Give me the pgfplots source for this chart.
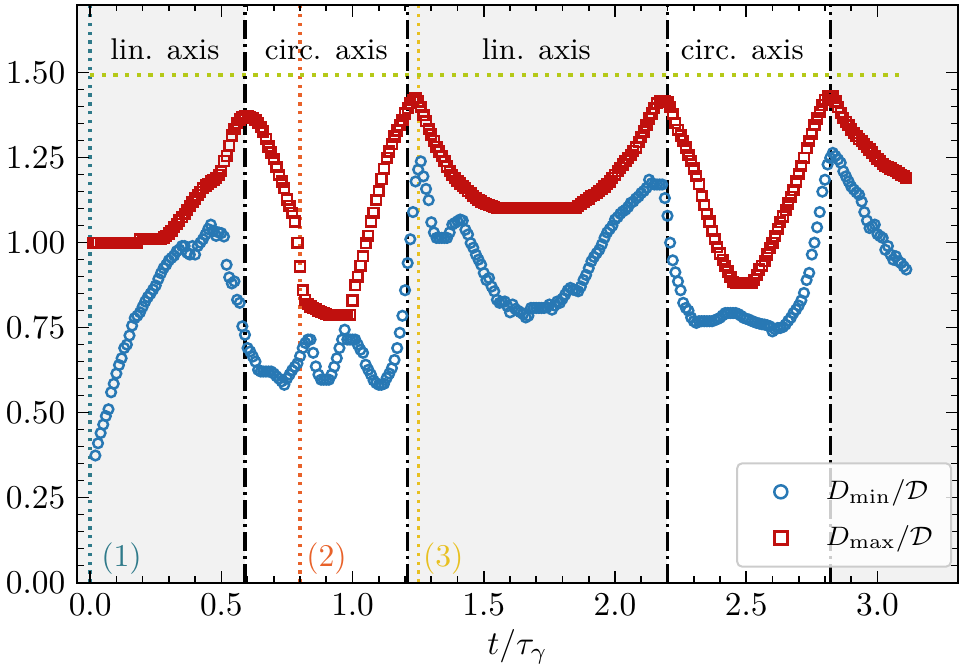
\documentclass[border=0pt]{standalone}
\usepackage{pgfplots}
\pgfplotsset{compat=1.18}
\usepackage{pgfplotstable}
\definecolor{cblue}{HTML}{2878B4}
\definecolor{cred}{HTML}{C0100E}
\definecolor{shade}{HTML}{F2F2F2}
\definecolor{cteal}{HTML}{2F7A8A}
\definecolor{corange}{HTML}{E8622A}
\definecolor{cgold}{HTML}{E8C020}
\definecolor{cgreen}{HTML}{B5C918}
\pgfplotstableread{
x dmax dmin
0.01 1.00 nan
0.02 1.00 0.374
0.03 1.00 0.410
0.04 1.00 0.440
0.05 1.00 0.465
0.06 1.00 0.490
0.07 1.00 0.510
0.08 1.00 0.560
0.09 1.00 0.585
0.10 1.00 0.615
0.11 1.00 0.640
0.12 1.00 0.660
0.13 1.00 0.690
0.14 1.00 0.700
0.15 1.00 0.727
0.16 1.00 0.756
0.17 1.00 0.778
0.18 1.00 0.785
0.19 1.01 0.795
0.20 1.01 0.811
0.21 1.01 0.827
0.22 1.01 0.840
0.23 1.01 0.850
0.24 1.01 0.862
0.25 1.01 0.874
0.26 1.01 0.893
0.27 1.01 0.910
0.28 1.015 0.925
0.29 1.02 0.935
0.30 1.027 0.948
0.31 1.035 0.955
0.32 1.045 0.962
0.33 1.055 0.975
0.34 1.065 0.980
0.35 1.075 0.990
0.36 1.085 0.990
0.37 1.097 0.970
0.38 1.108 0.965
0.39 1.120 0.990
0.40 1.130 0.965
0.41 1.140 0.990
0.42 1.150 1.000
0.43 1.160 1.010
0.44 1.168 1.024
0.45 1.173 1.040
0.46 1.180 1.053
0.47 1.185 1.035
0.48 1.190 1.020
0.49 1.200 1.030
0.50 1.210 1.028
0.51 1.240 1.018
0.52 1.255 0.935
0.53 1.285 0.898
0.54 1.315 0.880
0.55 1.335 0.886
0.56 1.352 0.832
0.57 1.362 0.823
0.58 1.368 0.754
0.59 1.371 0.729
0.60 1.372 0.690
0.61 1.370 0.680
0.62 1.366 0.665
0.63 1.360 0.650
0.64 1.352 0.626
0.65 1.340 0.621
0.66 1.327 0.621
0.67 1.305 0.621
0.68 1.283 0.621
0.69 1.265 0.621
0.70 1.245 0.615
0.71 1.222 0.607
0.72 1.200 0.600
0.73 1.180 0.592
0.74 1.160 0.582
0.75 1.127 0.600
0.76 1.108 0.612
0.77 1.088 0.625
0.78 1.062 0.635
0.79 1.000 0.645
0.80 0.930 0.666
0.81 0.860 0.690
0.82 0.832 0.705
0.83 0.820 0.715
0.84 0.812 0.715
0.85 0.808 0.676
0.86 0.804 0.636
0.87 0.800 0.612
0.88 0.797 0.597
0.89 0.793 0.597
0.90 0.790 0.597
0.91 0.788 0.597
0.92 0.788 0.612
0.93 0.788 0.635
0.94 0.788 0.660
0.95 0.788 0.690
0.96 0.788 0.715
0.97 0.788 0.744
0.98 0.788 0.715
0.99 0.788 0.715
1.00 0.830 0.715
1.01 0.875 0.715
1.02 0.900 0.700
1.03 0.932 0.685
1.04 0.960 0.676
1.05 0.998 0.641
1.06 1.020 0.626
1.07 1.062 0.612
1.08 1.087 0.595
1.09 1.126 0.587
1.10 1.151 0.582
1.11 1.187 0.582
1.12 1.217 0.585
1.13 1.250 0.602
1.14 1.268 0.615
1.15 1.290 0.631
1.16 1.312 0.655
1.17 1.330 0.690
1.18 1.345 0.735
1.19 1.360 0.785
1.20 1.380 0.860
1.21 1.395 0.940
1.22 1.410 1.010
1.23 1.420 1.090
1.24 1.426 1.180
1.25 1.415 1.215
1.26 1.400 1.239
1.27 1.375 1.195
1.28 1.357 1.158
1.29 1.335 1.125
1.30 1.318 1.060
1.31 1.300 1.030
1.32 1.282 1.014
1.33 1.268 1.014
1.34 1.255 1.014
1.35 1.240 1.014
1.36 1.224 1.014
1.37 1.210 1.030
1.38 1.198 1.053
1.39 1.190 1.058
1.40 1.182 1.063
1.41 1.174 1.068
1.42 1.167 1.065
1.43 1.160 1.038
1.44 1.152 1.024
1.45 1.145 0.999
1.46 1.137 0.985
1.47 1.132 0.965
1.48 1.126 0.950
1.49 1.121 0.935
1.50 1.117 0.911
1.51 1.113 0.890
1.52 1.110 0.896
1.53 1.107 0.871
1.54 1.104 0.857
1.55 1.102 0.832
1.56 1.102 0.823
1.57 1.102 0.825
1.58 1.102 0.827
1.59 1.102 0.813
1.60 1.102 0.795
1.61 1.102 0.818
1.62 1.102 0.805
1.63 1.102 0.800
1.64 1.102 0.795
1.65 1.102 0.790
1.66 1.102 0.780
1.67 1.102 0.785
1.68 1.102 0.808
1.69 1.102 0.808
1.70 1.102 0.808
1.71 1.102 0.808
1.72 1.102 0.808
1.73 1.102 0.808
1.74 1.102 0.810
1.75 1.102 0.818
1.76 1.102 0.803
1.77 1.102 0.815
1.78 1.102 0.827
1.79 1.102 0.823
1.80 1.102 0.835
1.81 1.102 0.847
1.82 1.102 0.860
1.83 1.102 0.867
1.84 1.102 0.862
1.85 1.102 0.860
1.86 1.108 0.857
1.87 1.114 0.871
1.88 1.120 0.890
1.89 1.125 0.905
1.90 1.130 0.925
1.91 1.136 0.945
1.92 1.141 0.958
1.93 1.146 0.969
1.94 1.152 0.979
1.95 1.158 0.995
1.96 1.165 1.014
1.97 1.172 1.030
1.98 1.180 1.040
1.99 1.190 1.050
2.00 1.200 1.068
2.01 1.210 1.075
2.02 1.220 1.085
2.03 1.230 1.092
2.04 1.240 1.097
2.05 1.249 1.105
2.06 1.259 1.117
2.07 1.270 1.121
2.08 1.280 1.130
2.09 1.295 1.136
2.10 1.310 1.146
2.11 1.327 1.152
2.12 1.345 1.161
2.13 1.365 1.185
2.14 1.380 1.175
2.15 1.395 1.171
2.16 1.410 1.171
2.17 1.415 1.171
2.18 1.416 1.171
2.19 1.416 1.131
2.20 1.413 1.079
2.21 1.400 1.000
2.22 1.378 0.948
2.23 1.352 0.913
2.24 1.332 0.886
2.25 1.315 0.860
2.26 1.300 0.823
2.27 1.280 0.808
2.28 1.259 0.800
2.29 1.240 0.780
2.30 1.218 0.769
2.31 1.196 0.764
2.32 1.172 0.769
2.33 1.136 0.769
2.34 1.110 0.769
2.35 1.085 0.769
2.36 1.062 0.769
2.37 1.035 0.769
2.38 1.010 0.772
2.39 0.987 0.775
2.40 0.968 0.779
2.41 0.950 0.786
2.42 0.932 0.793
2.43 0.915 0.793
2.44 0.898 0.793
2.45 0.884 0.793
2.46 0.881 0.793
2.47 0.881 0.790
2.48 0.881 0.785
2.49 0.881 0.779
2.50 0.881 0.776
2.51 0.881 0.774
2.52 0.881 0.770
2.53 0.890 0.767
2.54 0.905 0.764
2.55 0.921 0.762
2.56 0.932 0.760
2.57 0.945 0.759
2.58 0.965 0.757
2.59 0.984 0.754
2.60 1.000 0.739
2.61 1.019 0.745
2.62 1.040 0.749
2.63 1.060 0.749
2.64 1.077 0.752
2.65 1.095 0.759
2.66 1.115 0.770
2.67 1.135 0.779
2.68 1.155 0.793
2.69 1.180 0.803
2.70 1.202 0.815
2.71 1.225 0.830
2.72 1.250 0.852
2.73 1.278 0.890
2.74 1.300 0.911
2.75 1.320 0.965
2.76 1.345 1.000
2.77 1.365 1.045
2.78 1.385 1.090
2.79 1.405 1.150
2.80 1.420 1.185
2.81 1.430 1.230
2.82 1.432 1.249
2.83 1.430 1.264
2.84 1.415 1.255
2.85 1.398 1.245
2.86 1.382 1.235
2.87 1.367 1.210
2.88 1.355 1.195
2.89 1.345 1.180
2.90 1.333 1.165
2.91 1.322 1.156
2.92 1.313 1.148
2.93 1.305 1.141
2.94 1.298 1.121
2.95 1.290 1.090
2.96 1.282 1.065
2.97 1.274 1.043
2.98 1.265 1.048
2.99 1.255 1.053
3.00 1.247 1.025
3.01 1.240 1.019
3.02 1.232 1.014
3.03 1.226 0.979
3.04 1.222 0.990
3.05 1.218 0.965
3.06 1.214 0.950
3.07 1.210 0.960
3.08 1.205 0.945
3.09 1.200 0.940
3.10 1.195 0.930
3.11 1.190 0.921
}\data
\begin{document}
\begin{tikzpicture}
\begin{axis}[
  scale only axis, width=264.3pt, height=173.4pt,
  xmin=-0.05, xmax=3.307, ymin=0, ymax=1.70,
  xtick={0,0.5,1,1.5,2,2.5,3}, minor x tick num=4,
  ytick={0,0.25,0.5,0.75,1,1.25,1.5}, minor y tick num=4,
  tick align=inside, xtick pos=both, ytick pos=both,
  major tick length=3.6pt, minor tick length=2pt,
  every tick/.style={black, line width=0.5pt},
  axis line style={line width=0.6pt},
  axis on top,
  xticklabel style={/pgf/number format/.cd, fixed, fixed zerofill, precision=1},
  yticklabel style={/pgf/number format/.cd, fixed, fixed zerofill, precision=2},
  xlabel={$t/\tau_\gamma$},
  xlabel style={yshift=2.8pt},
  legend style={at={(1,0)}, anchor=south east, xshift=-1.8pt, yshift=4.5pt,
    draw=black!20, line width=0.6pt, rounded corners=1.5pt, fill=white,
    fill opacity=0.8, text opacity=1, font=\fontsize{8}{10}\selectfont,
    inner xsep=3.5pt, inner ysep=2.8pt, row sep=2.4pt},
  legend cell align=left,
  legend image code/.code={%
    \path (0pt,0pt) (20.5pt,0pt);
    \draw[mark repeat=2,mark phase=2,#1] plot coordinates {(0pt,0pt) (9.3pt,0pt) (18.6pt,0pt)};},
]
% shaded regions
\addplot[fill=shade, draw=none, forget plot] coordinates {(-0.05,0) (-0.05,1.7) (0.59,1.7) (0.59,0)} -- cycle;
\addplot[fill=shade, draw=none, forget plot] coordinates {(1.21,0) (1.21,1.7) (2.2,1.7) (2.2,0)} -- cycle;
\addplot[fill=shade, draw=none, forget plot] coordinates {(2.82,0) (2.82,1.7) (3.307,1.7) (3.307,0)} -- cycle;
% data
\addplot[only marks, mark=o, mark size=1.45pt, cblue, mark options={line width=0.75pt}, legend image post style={mark size=1.95pt}] table[x=x, y=dmin] {\data};
\addlegendentry{$D_{\min}/\mathcal{D}$}
\addplot[only marks, mark=square, mark size=1.45pt, cred, mark options={line width=0.75pt}, legend image post style={mark size=1.95pt}] table[x=x, y=dmax] {\data};
\addlegendentry{$D_{\max}/\mathcal{D}$}
% vertical lines
\addplot[cteal, line width=1pt, dash pattern=on 1pt off 1.65pt, forget plot] coordinates {(0,0) (0,1.7)};
\addplot[corange, line width=1pt, dash pattern=on 1pt off 1.65pt, forget plot] coordinates {(0.8,0) (0.8,1.7)};
\addplot[cgold, line width=1pt, dash pattern=on 1pt off 1.65pt, forget plot] coordinates {(1.25,0) (1.25,1.7)};
\addplot[cgreen, line width=1.3pt, dash pattern=on 1.3pt off 2.2pt, forget plot] coordinates {(0,1.494) (3.11,1.494)};
\addplot[black, line width=1pt, dash pattern=on 5.6pt off 1.5pt on 1pt off 1.5pt, forget plot] coordinates {(0.59,0) (0.59,1.7)};
\addplot[black, line width=1pt, dash pattern=on 5.6pt off 1.5pt on 1pt off 1.5pt, forget plot] coordinates {(1.21,0) (1.21,1.7)};
\addplot[black, line width=1pt, dash pattern=on 5.6pt off 1.5pt on 1pt off 1.5pt, forget plot] coordinates {(2.2,0) (2.2,1.7)};
\addplot[black, line width=1pt, dash pattern=on 5.6pt off 1.5pt on 1pt off 1.5pt, forget plot] coordinates {(2.82,0) (2.82,1.7)};
% labels
\node[font=\fontsize{9}{11}\selectfont] at (axis cs:0.285,1.568) {lin. axis};
\node[font=\fontsize{9}{11}\selectfont] at (axis cs:0.90,1.568) {circ. axis};
\node[font=\fontsize{9}{11}\selectfont] at (axis cs:1.70,1.568) {lin. axis};
\node[font=\fontsize{9}{11}\selectfont] at (axis cs:2.485,1.568) {circ. axis};
\node[font=\fontsize{9.5}{11}\selectfont, text=cteal, anchor=west, inner sep=0pt] at (axis cs:0.040,0.072) {(1)};
\node[font=\fontsize{9.5}{11}\selectfont, text=corange, anchor=west, inner sep=0pt] at (axis cs:0.821,0.072) {(2)};
\node[font=\fontsize{9.5}{11}\selectfont, text=cgold, anchor=west, inner sep=0pt] at (axis cs:1.266,0.072) {(3)};
\end{axis}
\pgfresetboundingbox
\useasboundingbox ([xshift=-23.1pt,yshift=-24.9pt]current axis.south west) rectangle ([xshift=0.6pt,yshift=1.4pt]current axis.north east);
\end{tikzpicture}
\end{document}
